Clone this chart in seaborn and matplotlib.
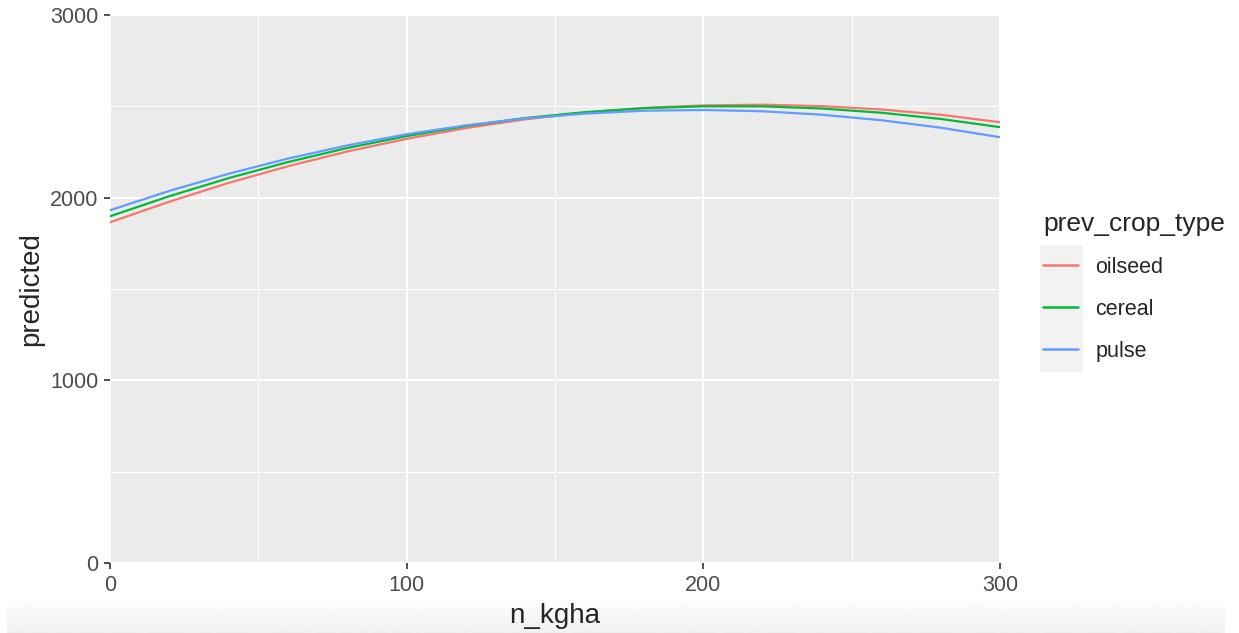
import matplotlib
matplotlib.use("Agg")
import matplotlib.pyplot as plt
from matplotlib.patches import Rectangle
from matplotlib.ticker import MultipleLocator
import numpy as np
import pandas as pd
import seaborn as sns

# values
n_kgha = [0, 20, 40, 60, 80, 100, 120, 140, 160, 180, 200, 220, 240, 260, 280, 300]
oilseed = [1865, 1978, 2081, 2172, 2253, 2322, 2381, 2429, 2465, 2491, 2505, 2509, 2501, 2483, 2454, 2413]
cereal = [1898, 2008, 2107, 2195, 2272, 2337, 2392, 2436, 2468, 2490, 2500, 2500, 2488, 2465, 2431, 2386]
pulse = [1931, 2037, 2131, 2214, 2286, 2347, 2396, 2434, 2460, 2476, 2480, 2473, 2454, 2424, 2383, 2331]
crop_types = ["oilseed", "cereal", "pulse"]
colors = ["#F8766D", "#00BA38", "#619CFF"]

df = pd.concat([
    pd.DataFrame({"n_kgha": n_kgha, "predicted": vals, "prev_crop_type": name})
    for name, vals in zip(crop_types, [oilseed, cereal, pulse])
])

sns.set_theme(style="darkgrid")
plt.rcParams["font.family"] = ["Liberation Sans", "DejaVu Sans"]
plt.rcParams["axes.facecolor"] = "#EBEBEB"
plt.rcParams["grid.color"] = "white"

fig = plt.figure(figsize=(12.39, 6.33), dpi=100)
ax = fig.add_axes([110 / 1239, 1 - 563 / 633, 890 / 1239, 548 / 633])

sns.lineplot(data=df, x="n_kgha", y="predicted", hue="prev_crop_type",
             hue_order=crop_types, palette=colors, linewidth=1.6, ax=ax, legend=True)

ax.set_xlim(0, 300)
ax.set_ylim(0, 3000)
ax.xaxis.set_major_locator(MultipleLocator(100))
ax.xaxis.set_minor_locator(MultipleLocator(50))
ax.yaxis.set_major_locator(MultipleLocator(1000))
ax.yaxis.set_minor_locator(MultipleLocator(500))
ax.grid(which="major", color="white", linewidth=1.5)
ax.grid(which="minor", color="white", linewidth=0.7)
ax.tick_params(which="major", length=4.5, width=1.2, color="#333333",
               labelcolor="#4D4D4D", labelsize=15.5, pad=4, bottom=True, left=True)
ax.tick_params(which="minor", length=0)
for s in ax.spines.values():
    s.set_visible(False)
ax.set_xlabel("n_kgha", fontsize=20, labelpad=5)
ax.set_ylabel("predicted", fontsize=20, labelpad=4)

handles, labels = ax.get_legend_handles_labels()
ax.get_legend().remove()
fig.patches.append(Rectangle((1040 / 1239, 1 - 372 / 633), 43 / 1239, 127 / 633,
                             transform=fig.transFigure, facecolor="#F2F2F2",
                             edgecolor="none", zorder=1))
leg = fig.legend(handles, labels, title="prev_crop_type", loc="upper left",
                 bbox_to_anchor=(1043 / 1239, 1 - 212 / 633), frameon=False,
                 fontsize=15.5, title_fontsize=19, borderpad=0, borderaxespad=0,
                 handlelength=1.63, handletextpad=0.8, labelspacing=0.97,
                 alignment="left")
for line in leg.get_lines():
    line.set_linewidth(1.8)
leg.set_zorder(5)

# light shadow band at the bottom of the screenshot
bax = fig.add_axes([7 / 1239, 0, 1218 / 1239, 36 / 633], zorder=-1)
grad = np.linspace(1.0, 0.94, 50).reshape(-1, 1)
bax.imshow(grad, aspect="auto", cmap="gray", vmin=0, vmax=1, extent=[0, 1, 0, 1])
bax.axis("off")

fig.savefig("out.png", dpi=100)
